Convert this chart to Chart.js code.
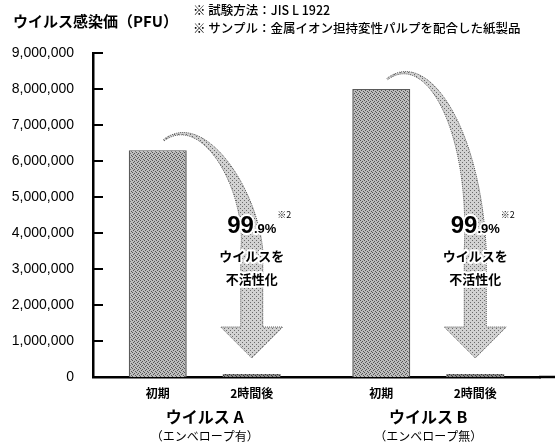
<!DOCTYPE html>
<html lang="ja">
<head>
<meta charset="utf-8">
<script src="https://cdn.jsdelivr.net/npm/chart.js@4.4.1/dist/chart.umd.min.js"></script>
<style>
  html, body { margin: 0; padding: 0; background: #fff; }
  #wrap { position: relative; width: 556px; height: 444px; }
  #chart { position: absolute; left: 0; top: 0; }
  #title { position: absolute; left: 13px; top: 11px; font: bold 15px "Noto Sans CJK JP"; line-height: 20px; color: #000; white-space: nowrap; }
  .note { position: absolute; left: 193px; font: 500 12.5px "Noto Sans CJK JP"; line-height: 16px; color: #000; white-space: nowrap; }
</style>
</head>
<body>
<div id="wrap">
  <canvas id="chart" width="556" height="444"></canvas>
  <div id="title">ウイルス感染価（PFU）</div>
  <div class="note" style="top:2px">※ 試験方法：JIS L 1922</div>
  <div class="note" style="top:20px">※ サンプル：金属イオン担持変性パルプを配合した紙製品</div>
</div>
<script>
// data
const groups = ['ウイルス A', 'ウイルス B'];
const groupNotes = ['（エンベロープ有）', '（エンベロープ無）'];
const phases = ['初期', '2時間後'];
const initialPfu = [6300000, 8000000];
const after2hPfu = [6300, 8000];
const yTicks = [0, 1000000, 2000000, 3000000, 4000000, 5000000, 6000000, 7000000, 8000000, 9000000];
const reductionBig = '99';
const reductionSmall = '.9%';
const reductionNote = '※2';
const effectLines = ['ウイルスを', '不活性化'];

const JP = '"Noto Sans CJK JP", sans-serif';

// stipple pattern for bars / arrows
function makePattern(base, dot, cells) {
    const c = document.createElement('canvas');
    c.width = 4; c.height = 4;
    const g = c.getContext('2d');
    g.fillStyle = base;
    g.fillRect(0, 0, 4, 4);
    g.fillStyle = dot;
    cells.forEach(p => g.fillRect(p[0], p[1], 1, 1));
    return g.createPattern(c, 'repeat');
}
const ctx0 = document.getElementById('chart').getContext('2d');
const barFill = makePattern('#bdbdbd', '#555', [[0, 0], [2, 1], [1, 2], [3, 3]]);
const lowFill = makePattern('#888', '#333', [[0, 0], [2, 1], [1, 2], [3, 3]]);
const arrowFill = makePattern('#d2d2d2', '#6a6a6a', [[0, 0], [2, 2]]);

function drawArrow(ctx, sx, sy, top, hx, bottom) {
    const p0 = [sx, sy];
    const p1 = [sx + 40, top - 40];
    const p2 = [hx, top + 40];
    const p3 = [hx, 250];
    const headTop = bottom - 50;
    const tip = bottom - 19;
    const left = [], right = [];
    const N = 48;
    for (let i = 0; i <= N; i++) {
        const t = i / N, u = 1 - t;
        const x = u*u*u*p0[0] + 3*u*u*t*p1[0] + 3*u*t*t*p2[0] + t*t*t*p3[0];
        const y = u*u*u*p0[1] + 3*u*u*t*p1[1] + 3*u*t*t*p2[1] + t*t*t*p3[1];
        let dx = 3*u*u*(p1[0]-p0[0]) + 6*u*t*(p2[0]-p1[0]) + 3*t*t*(p3[0]-p2[0]);
        let dy = 3*u*u*(p1[1]-p0[1]) + 6*u*t*(p2[1]-p1[1]) + 3*t*t*(p3[1]-p2[1]);
        const len = Math.hypot(dx, dy) || 1;
        const w = (1.5 + 20.5 * Math.pow(t, 1.7)) / 2;
        left.push([x - dy / len * w, y + dx / len * w]);
        right.push([x + dy / len * w, y - dx / len * w]);
    }
    ctx.beginPath();
    ctx.moveTo(left[0][0], left[0][1]);
    left.forEach(p => ctx.lineTo(p[0], p[1]));
    ctx.lineTo(hx - 11, headTop);
    ctx.lineTo(hx - 31, headTop);
    ctx.lineTo(hx, tip);
    ctx.lineTo(hx + 31, headTop);
    ctx.lineTo(hx + 11, headTop);
    for (let i = right.length - 1; i >= 0; i--) ctx.lineTo(right[i][0], right[i][1]);
    ctx.closePath();
    ctx.fillStyle = arrowFill;
    ctx.fill();
    ctx.setLineDash([1, 1]);
    ctx.lineWidth = 1;
    ctx.strokeStyle = '#555';
    ctx.stroke();
    ctx.setLineDash([]);
}

function haloText(ctx, text, x, y) {
    ctx.lineWidth = 4;
    ctx.strokeStyle = '#fff';
    ctx.lineJoin = 'round';
    ctx.strokeText(text, x, y);
    ctx.fillText(text, x, y);
}

const decorations = {
    id: 'decorations',
    afterDatasetsDraw(chart) {
        const ctx = chart.ctx;
        const area = chart.chartArea;
        const m0 = chart.getDatasetMeta(0);
        const m1 = chart.getDatasetMeta(1);
        ctx.save();

        // arrows with text
        groups.forEach((g, i) => {
            const a = m0.data[i], b = m1.data[i];
            drawArrow(ctx, a.x + 6, a.y - 10, a.y, b.x, area.bottom);

            ctx.fillStyle = '#000';
            ctx.textBaseline = 'alphabetic';
            ctx.font = 'bold 24px "Liberation Sans", Arial, sans-serif';
            const wBig = ctx.measureText(reductionBig).width;
            ctx.font = 'bold 13px "Liberation Sans", Arial, sans-serif';
            const wSmall = ctx.measureText(reductionSmall).width;
            const x0 = b.x - (wBig + wSmall) / 2;
            ctx.textAlign = 'left';
            ctx.font = 'bold 24px "Liberation Sans", Arial, sans-serif';
            haloText(ctx, reductionBig, x0, 233);
            ctx.font = 'bold 13px "Liberation Sans", Arial, sans-serif';
            haloText(ctx, reductionSmall, x0 + wBig, 233);
            ctx.font = '9px ' + JP;
            haloText(ctx, reductionNote, x0 + wBig + wSmall + 1, 218);

            ctx.textAlign = 'center';
            ctx.textBaseline = 'middle';
            ctx.font = 'bold 13px ' + JP;
            haloText(ctx, effectLines[0], b.x, 256);
            haloText(ctx, effectLines[1], b.x, 279);
        });
        ctx.restore();
    },
    afterDraw(chart) {
        const ctx = chart.ctx;
        const area = chart.chartArea;
        const y = chart.scales.y;
        const x = chart.scales.x;
        ctx.save();
        ctx.strokeStyle = '#000';

        // baseline runs past the plot to the right edge
        ctx.lineWidth = 2.5;
        ctx.beginPath();
        ctx.moveTo(area.right - 1, area.bottom);
        ctx.lineTo(555, area.bottom);
        ctx.stroke();

        // inner tick marks
        ctx.lineWidth = 2;
        y.ticks.forEach((t, i) => {
            if (t.value === 0) return;
            const py = y.getPixelForTick(i);
            ctx.beginPath();
            ctx.moveTo(area.left, py);
            ctx.lineTo(area.left + 10, py);
            ctx.stroke();
        });

        // category labels
        ctx.fillStyle = '#000';
        ctx.textAlign = 'center';
        ctx.textBaseline = 'middle';
        [0, 1].forEach(d => {
            chart.getDatasetMeta(d).data.forEach(el => {
                ctx.font = 'bold 12px ' + JP;
                ctx.fillText(phases[d], el.x, 393);
            });
        });
        groups.forEach((g, i) => {
            const cx = x.getPixelForValue(i);
            ctx.font = 'bold 16px ' + JP;
            ctx.fillText(g, cx, 417);
            ctx.font = '12px ' + JP;
            ctx.fillText(groupNotes[i], cx, 436);
        });
        ctx.restore();
    }
};

new Chart(ctx0, {
    type: 'bar',
    data: {
        labels: groups,
        datasets: [{
            label: phases[0],
            data: initialPfu,
            backgroundColor: barFill,
            borderColor: '#5a5a5a',
            borderWidth: { left: 1.5, right: 1.5, top: 1, bottom: 0 },
            borderSkipped: false,
            categoryPercentage: 0.841,
            barPercentage: 0.617
        }, {
            label: phases[1],
            data: after2hPfu,
            backgroundColor: lowFill,
            borderWidth: 0,
            minBarLength: 3,
            categoryPercentage: 0.841,
            barPercentage: 0.617
        }]
    },
    options: {
        responsive: false,
        animation: false,
        layout: { padding: { left: 0, top: 53, right: 16, bottom: 0 } },
        plugins: {
            legend: { display: false },
            tooltip: { enabled: false }
        },
        scales: {
            x: {
                z: 1,
                grid: { display: false },
                border: { display: true, color: '#000', width: 2.5 },
                ticks: { display: false },
                afterFit: (s) => { s.height = 67; }
            },
            y: {
                z: 1,
                min: 0,
                max: 9000000,
                grid: { display: false },
                border: { display: true, color: '#000', width: 2.5 },
                afterBuildTicks: (s) => { s.ticks = yTicks.map(v => ({ value: v })); },
                afterFit: (s) => { s.width = 93; },
                ticks: {
                    padding: 11,
                    color: '#000',
                    font: { family: '"Liberation Sans", Arial, sans-serif', size: 14 },
                    callback: (v) => v.toLocaleString('en-US')
                }
            }
        }
    },
    plugins: [decorations]
});
</script>
</body>
</html>
